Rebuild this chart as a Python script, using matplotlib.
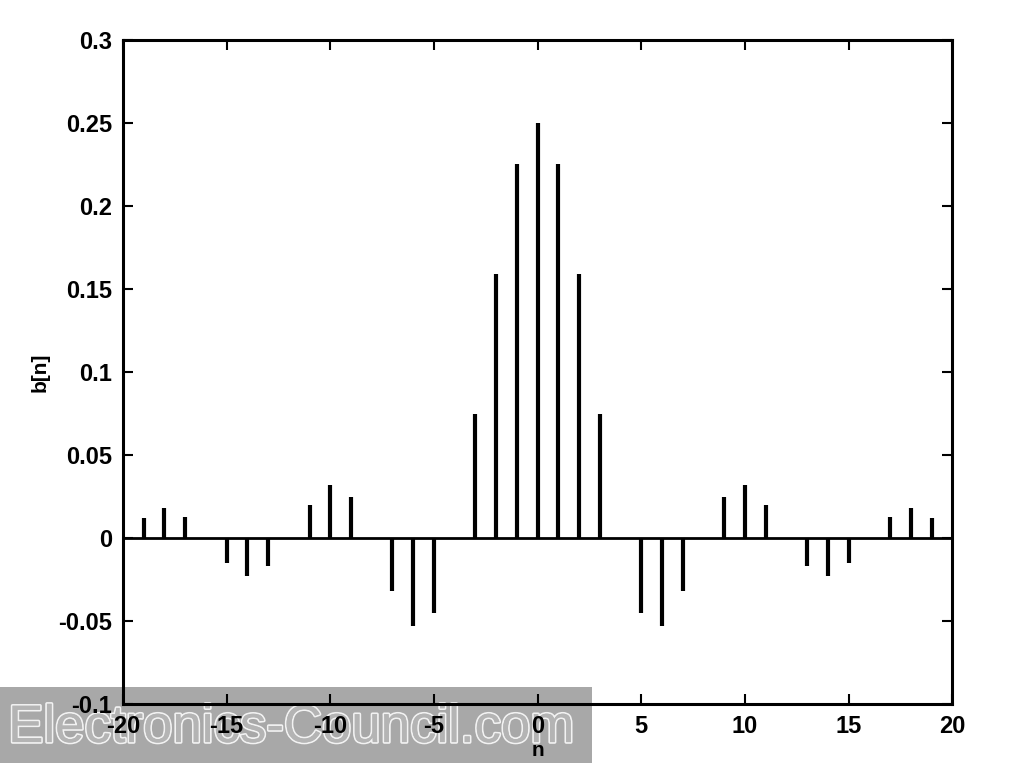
import matplotlib
matplotlib.use("Agg")
import matplotlib.pyplot as plt
from matplotlib.patches import Rectangle
import matplotlib.patheffects as pe

plt.rcParams['font.family'] = ['Liberation Sans', 'DejaVu Sans']
plt.rcParams['axes.unicode_minus'] = False

n = list(range(-20, 21))
b = [0.0, 0.012, 0.018, 0.013, 0.0, -0.015, -0.023, -0.017, 0.0,
     0.020, 0.032, 0.025, 0.0, -0.032, -0.053, -0.045, 0.0,
     0.075, 0.159, 0.225, 0.25, 0.225, 0.159, 0.075, 0.0,
     -0.045, -0.053, -0.032, 0.0, 0.025, 0.032, 0.020, 0.0,
     -0.017, -0.023, -0.015, 0.0, 0.013, 0.018, 0.012, 0.0]
xticks = [-20, -15, -10, -5, 0, 5, 10, 15, 20]
yticks = [-0.1, -0.05, 0, 0.05, 0.1, 0.15, 0.2, 0.25, 0.3]
yticklabels = ['-0.1', '-0.05', '0', '0.05', '0.1', '0.15', '0.2', '0.25', '0.3']

fig = plt.figure(figsize=(10.24, 7.68), dpi=100)
ax = fig.add_axes([0.12, 0.083, 0.81, 0.865])
ax.patch.set_facecolor('none')

markerline, stemlines, baseline = ax.stem(n, b, linefmt='k-', markerfmt=' ', basefmt='k-')
stemlines.set_linewidth(3.0)
baseline.set_linewidth(2.0)
baseline.set_xdata([-20, 20])

ax.set_xlim(-20, 20)
ax.set_ylim(-0.1, 0.3)
ax.set_xticks(xticks)
ax.set_yticks(yticks)
ax.set_yticklabels(yticklabels)
ax.tick_params(direction='in', top=True, right=True, length=7, width=1.5,
               labelsize=17, pad=8)
for lab in ax.get_xticklabels() + ax.get_yticklabels():
    lab.set_fontweight('bold')
for s in ax.spines.values():
    s.set_linewidth(2.2)

ax.set_xlabel('n', fontsize=15, fontweight='bold', labelpad=2)
ax.set_ylabel('b[n]', fontsize=15, fontweight='bold', labelpad=6)

# watermark (under the axes so the tick labels stay dark, as in the reference)
fig.patches.append(Rectangle((0, 0.006), 0.578, 0.1, transform=fig.transFigure,
                             facecolor='#a8a8a8', edgecolor='none', zorder=-2))
fig.text(0.008, 0.052, 'Electronics-Council.com', fontsize=38, color='#b4b4b4',
         va='center', ha='left', zorder=-1,
         path_effects=[pe.withStroke(linewidth=2.5, foreground='#f2f2f2'),
                       pe.Normal()])

fig.savefig('out.png', dpi=100)
